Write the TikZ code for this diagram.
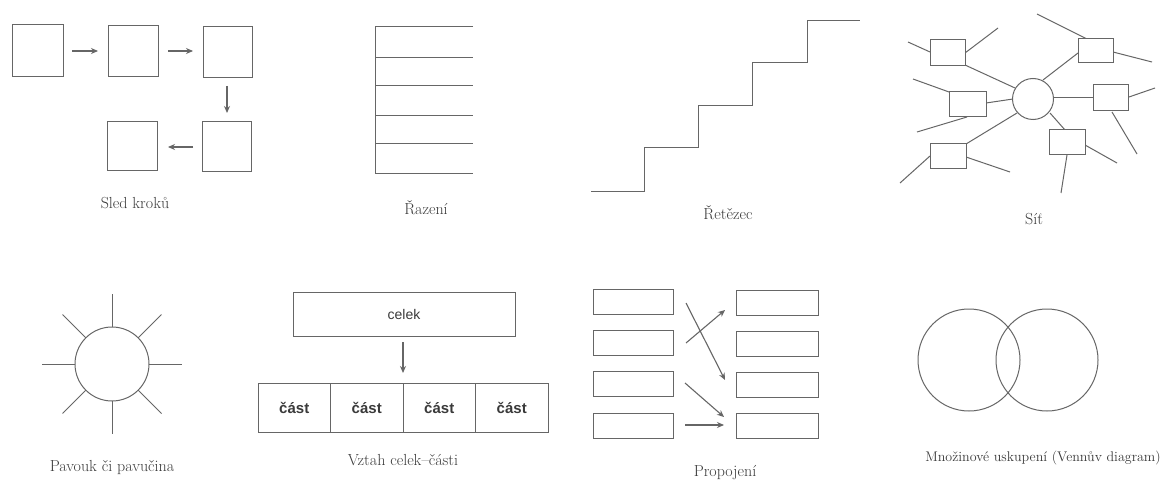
\documentclass[tikz,border=0pt]{standalone}
\usepackage{fontspec}
\newfontfamily\partfont{Liberation Sans}
\usetikzlibrary{arrows.meta}
\definecolor{ln}{HTML}{666666}
\definecolor{tx}{HTML}{3A3A3A}
\tikzset{
  ln/.style={draw=ln, line width=1pt},
  boxs/.style={ln, fill=white},
  arr/.style={ln, line width=1.6pt, -{Stealth[length=7pt,width=6pt]}},
  thin arr/.style={ln, line width=1.1pt, -{Stealth[length=7pt,width=6pt]}},
  lab/.style={text=tx, font=\fontsize{16}{19}\selectfont, inner sep=0pt},
  ptxt/.style={text=tx, font=\partfont\bfseries\fontsize{15}{18}\selectfont},
  ctxt/.style={text=tx, font=\partfont\fontsize{14}{17}\selectfont},
  part/.style={ln, minimum width=72.5pt, minimum height=49pt, outer sep=0pt, ptxt},
}
\begin{document}
\begin{tikzpicture}[x=1pt,y=-1pt]
\useasboundingbox[fill=white] (0,0) rectangle (1164,481);

% ---------- Sled kroku ----------
\draw[boxs] (12,25) rectangle (63,77);
\draw[boxs] (108,26) rectangle (158,77);
\draw[boxs] (203,27) rectangle (252,78);
\draw[boxs] (202,122) rectangle (251,172);
\draw[boxs] (107,122) rectangle (157,171);
\coordinate (a1s) at (72,51); \coordinate (a1e) at (98,51);
\coordinate (a2s) at (168,51); \coordinate (a2e) at (193,51);
\coordinate (a3s) at (227,86); \coordinate (a3e) at (227,113);
\coordinate (a4s) at (193,147); \coordinate (a4e) at (168,147);
\draw[arr] (a1s) -- (a1e);
\draw[thin arr] (a2s) -- (a2e);
\draw[arr] (a3s) -- (a3e);
\draw[arr] (a4s) -- (a4e);
\node[lab] (l1) at (135,203) {Sled kroků};

% ---------- Razeni ----------
\draw[ln] (473,27) -- (375,27) -- (375,174) -- (473,174);
\foreach \y in {58,86,116,144} \draw[ln] (375,\y) -- (473,\y);
\node[lab] (l2) at (426,208) {Řazení};

% ---------- Retezec ----------
\draw[ln] (591,192) -- (644,192) -- (644,148) -- (698,148) -- (698,106)
  -- (752,106) -- (752,63) -- (807,63) -- (807,21) -- (860,21);
\node[lab] (l3) at (728,213) {Řetězec};

% ---------- Sit ----------
\draw[ln] (908,42) -- (930,52);
\draw[ln] (965,53) -- (998,28);
\draw[ln] (965,65) -- (1015,88);
\draw[ln] (913,79) -- (949,92);
\draw[ln] (917,132) -- (967,117);
\draw[ln] (986,103) -- (1013,99);
\draw[ln] (966,144) -- (1017,113);
\draw[ln] (900,183) -- (930,156);
\draw[ln] (966,157) -- (1010,172);
\draw[ln] (1037,14) -- (1087,39);
\draw[ln] (1078,53) -- (1043,80);
\draw[ln] (1113,52) -- (1152,62);
\draw[ln] (1054,98) -- (1093,98);
\draw[ln] (1129,97) -- (1155,88);
\draw[ln] (1112,112) -- (1137,154);
\draw[ln] (1065,130) -- (1050,113);
\draw[ln] (1085,145) -- (1117,163);
\draw[ln] (1067,155) -- (1061,193);
\draw[boxs] (1033,99) circle (20.5);
\draw[boxs] (930,40) rectangle (965,66);
\draw[boxs] (949,92) rectangle (986,117);
\draw[boxs] (930,144) rectangle (966,169);
\draw[boxs] (1078,39) rectangle (1113,63);
\draw[boxs] (1093,85) rectangle (1128,111);
\draw[boxs] (1049,130) rectangle (1085,155);
\node[lab] (l4) at (1034,219) {Síť};

% ---------- Pavouk ----------
\foreach \a in {0,45,...,315} \draw[ln] (112,364) ++(\a:37) -- ++(\a:33);
\draw[ln] (112,364) circle (37);
\node[lab] (l5) at (112,468) {Pavouk či pavučina};

% ---------- Vztah celek-casti ----------
\node[ln, minimum width=222pt, minimum height=44pt, ctxt] (celek) at (404,314) {celek};
\node[part] (p1) at (294.25,407.5) {část};
\node[part, anchor=west] (p2) at (p1.east) {část};
\node[part, anchor=west] (p3) at (p2.east) {část};
\node[part, anchor=west] (p4) at (p3.east) {část};
\coordinate (ca) at (403,342);
\coordinate (cb) at (403,373);
\draw[arr] (ca) -- (cb);
\node[lab] (l6) at (403,460) {Vztah celek–části};

% ---------- Propojeni ----------
\foreach \n/\y in {1/301.5,2/342.5,3/384,4/425.5}
  \node[ln, minimum width=80pt, minimum height=25pt, inner sep=0pt] (L\n) at (633,\y) {};
\foreach \n/\y in {1/302.5,2/344,3/385,4/425.5}
  \node[ln, minimum width=82pt, minimum height=25pt, inner sep=0pt] (R\n) at (777,\y) {};
\coordinate (pa1) at (686,343); \coordinate (pb1) at (725,310);
\coordinate (pa2) at (686,303); \coordinate (pb2) at (725,380);
\coordinate (pa3) at (685,383); \coordinate (pb3) at (724,417);
\coordinate (pa4) at (685,425); \coordinate (pb4) at (724,425);
\draw[thin arr] (pa1) -- (pb1);
\draw[thin arr] (pa2) -- (pb2);
\draw[thin arr] (pa3) -- (pb3);
\draw[arr, line width=2pt] (pa4) -- (pb4);
\node[lab] (l7) at (725,473) {Propojení};

% ---------- Venn ----------
\draw[ln] (969,360) circle (51);
\draw[ln] (1047,360) circle (51);
\node[lab, font=\fontsize{14}{17}\selectfont] (l8) at (1043,458) {Množinové uskupení (Vennův diagram)};
\end{tikzpicture}
\end{document}
